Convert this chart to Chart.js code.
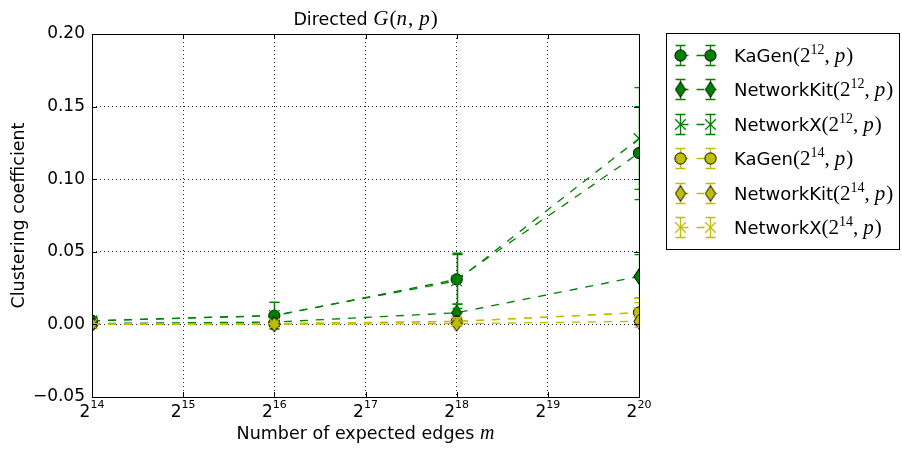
<!DOCTYPE html>
<html>
<head>
<meta charset="utf-8">
<script src="https://cdn.jsdelivr.net/npm/chart.js@4.4.1/dist/chart.umd.min.js"></script>
<style>
  html, body { margin: 0; padding: 0; background: #fff; }
  #wrap { width: 902px; height: 449px; position: relative; }
  canvas { display: block; }
</style>
</head>
<body>
<div id="wrap"><canvas id="chart" width="902" height="449"></canvas></div>
<script>
// Expected edge counts as powers of two (m = 2^e)
const exponents = [14, 16, 18, 20];
const xTickExponents = [14, 15, 16, 17, 18, 19, 20];

// Mean clustering coefficient and error-bar half-widths, n = 2^12
const kagen12 = [0.0025, 0.0060, 0.0310, 0.1180];
const kagen12Err = [0.0020, 0.0092, 0.0170, 0.0320];
const networkit12 = [0.0006, 0.0016, 0.0080, 0.0330];
const networkit12Err = [0.0008, 0.0025, 0.0060, 0.0150];
const networkx12 = [0.0025, 0.0062, 0.0300, 0.1280];
const networkx12Err = [0.0020, 0.0090, 0.0190, 0.0350];

// Same for n = 2^14
const kagen14 = [0.0002, 0.0005, 0.0020, 0.0082];
const kagen14Err = [0.0004, 0.0010, 0.0025, 0.0068];
const networkit14 = [0.0001, 0.0001, 0.0005, 0.0021];
const networkit14Err = [0.0002, 0.0003, 0.0010, 0.0025];
const networkx14 = [0.0002, 0.0005, 0.0021, 0.0080];
const networkx14Err = [0.0004, 0.0010, 0.0025, 0.0100];

const seriesNames = ['KaGen', 'NetworkKit', 'NetworkX', 'KaGen', 'NetworkKit', 'NetworkX'];
const seriesSizes = ['12', '12', '12', '14', '14', '14'];

const GREEN = '#008000';
const YELLOW = '#bfbf00';
const SANS = '"DejaVu Sans", sans-serif';
const SERIF = '"Liberation Serif", "DejaVu Serif", serif';

// thin diamond marker ('d') with a black edge
function diamondMarker(fill) {
  const c = document.createElement('canvas');
  c.width = 12; c.height = 17;
  const g = c.getContext('2d');
  g.beginPath();
  g.moveTo(6, 0.8); g.lineTo(11.2, 8.5); g.lineTo(6, 16.2); g.lineTo(0.8, 8.5); g.closePath();
  g.fillStyle = fill; g.fill();
  g.lineWidth = 1; g.strokeStyle = '#000'; g.stroke();
  return c;
}

const series = [
  { values: kagen12, errors: kagen12Err, color: GREEN, marker: 'circle' },
  { values: networkit12, errors: networkit12Err, color: GREEN, marker: 'diamond' },
  { values: networkx12, errors: networkx12Err, color: GREEN, marker: 'x' },
  { values: kagen14, errors: kagen14Err, color: YELLOW, marker: 'circle' },
  { values: networkit14, errors: networkit14Err, color: YELLOW, marker: 'diamond' },
  { values: networkx14, errors: networkx14Err, color: YELLOW, marker: 'x' }
];

function pointOpts(s) {
  if (s.marker === 'circle') {
    return { pointStyle: 'circle', pointRadius: 5.6, pointBorderWidth: 1,
             pointBorderColor: '#000', pointBackgroundColor: s.color };
  }
  if (s.marker === 'diamond') {
    return { pointStyle: diamondMarker(s.color), pointRadius: 6 };
  }
  return { pointStyle: 'crossRot', pointRadius: 7.5, pointBorderWidth: 1.3,
           pointBorderColor: s.color, pointBackgroundColor: s.color };
}

const datasets = series.map((s, i) => Object.assign({
  label: seriesNames[i] + '(2^' + seriesSizes[i] + ', p)',
  data: exponents.map((e, j) => ({ x: e, y: s.values[j] })),
  errors: s.errors,
  borderColor: s.color,
  backgroundColor: s.color,
  borderWidth: 1.3,
  borderDash: [8, 8],
  fill: false,
  tension: 0,
  clip: 0,
  order: series.length - i
}, pointOpts(s)));

// text made of pieces in different fonts (math-style labels)
function richWidth(ctx, parts) {
  let w = 0;
  for (const p of parts) { ctx.font = p.font; w += ctx.measureText(p.t).width + (p.gap || 0); }
  return w;
}
function drawRich(ctx, parts, x, y, align) {
  const w = richWidth(ctx, parts);
  let cx = align === 'center' ? x - w / 2 : (align === 'right' ? x - w : x);
  ctx.textAlign = 'left';
  ctx.textBaseline = 'alphabetic';
  for (const p of parts) {
    ctx.font = p.font;
    ctx.fillText(p.t, cx, y + (p.dy || 0));
    cx += ctx.measureText(p.t).width + (p.gap || 0);
  }
}

function drawErrorBar(ctx, x, yTop, yBot, color) {
  ctx.strokeStyle = color;
  ctx.lineWidth = 1.3;
  ctx.setLineDash([]);
  ctx.beginPath();
  ctx.moveTo(x, yTop); ctx.lineTo(x, yBot);
  ctx.moveTo(x - 5, yTop); ctx.lineTo(x + 5, yTop);
  ctx.moveTo(x - 5, yBot); ctx.lineTo(x + 5, yBot);
  ctx.stroke();
}

// each series (error bars, line, markers) is clipped to the plot area;
// error bars go underneath the line and markers
const errorBars = {
  id: 'errorBars',
  beforeDatasetDraw(chart, args) {
    const ds = chart.data.datasets[args.index];
    const { ctx, chartArea: a } = chart;
    const xs = chart.scales.x, ys = chart.scales.y;
    ctx.save();
    ctx.beginPath();
    ctx.rect(a.left, a.top, a.right - a.left, a.bottom - a.top);
    ctx.clip();
    ds.data.forEach((p, j) => {
      const x = Math.round(xs.getPixelForValue(p.x)) + 0.5;
      const yt = ys.getPixelForValue(p.y + ds.errors[j]);
      const yb = ys.getPixelForValue(p.y - ds.errors[j]);
      drawErrorBar(ctx, x, yt, yb, ds.borderColor);
    });
  },
  afterDatasetDraw(chart) {
    chart.ctx.restore();
  }
};

// frame, inward ticks, x tick labels, axis titles, title and legend
const decorations = {
  id: 'decorations',
  afterDatasetsDraw(chart) {
    const { ctx, chartArea: a } = chart;
    const xs = chart.scales.x, ys = chart.scales.y;
    ctx.save();
    ctx.setLineDash([]);
    ctx.strokeStyle = '#000';
    ctx.lineWidth = 1;
    // inward ticks on all four sides
    ctx.beginPath();
    xTickExponents.forEach(e => {
      const x = Math.round(xs.getPixelForValue(e)) + 0.5;
      ctx.moveTo(x, a.bottom); ctx.lineTo(x, a.bottom - 5);
      ctx.moveTo(x, a.top); ctx.lineTo(x, a.top + 5);
    });
    ys.ticks.forEach(t => {
      const y = Math.round(ys.getPixelForValue(t.value)) + 0.5;
      ctx.moveTo(a.left, y); ctx.lineTo(a.left + 5, y);
      ctx.moveTo(a.right, y); ctx.lineTo(a.right - 5, y);
    });
    ctx.stroke();
    ctx.strokeRect(Math.round(a.left) + 0.5, Math.round(a.top) + 0.5,
                   Math.round(a.right - a.left), Math.round(a.bottom - a.top));
    ctx.restore();
  },
  afterDraw(chart) {
    const { ctx, chartArea: a } = chart;
    const xs = chart.scales.x;
    ctx.save();
    ctx.fillStyle = '#000';

    // x tick labels 2^e
    xTickExponents.forEach(e => {
      const x = xs.getPixelForValue(e);
      drawRich(ctx, [
        { t: '2', font: `17px ${SANS}` },
        { t: String(e), font: `11px ${SANS}`, dy: -9 }
      ], x, 417, 'center');
    });

    const cx = (a.left + a.right) / 2;

    // x axis title
    drawRich(ctx, [
      { t: 'Number of expected edges ', font: `17.5px ${SANS}` },
      { t: 'm', font: `italic 20px ${SERIF}` }
    ], cx, 439, 'center');

    // y axis title
    ctx.save();
    ctx.translate(24, (a.top + a.bottom) / 2);
    ctx.rotate(-Math.PI / 2);
    ctx.font = `17.5px ${SANS}`;
    ctx.textAlign = 'center';
    ctx.textBaseline = 'alphabetic';
    ctx.fillText('Clustering coefficient', 0, 0);
    ctx.restore();

    // title
    drawRich(ctx, [
      { t: 'Directed ', font: `17.5px ${SANS}` },
      { t: 'G', font: `italic 21px ${SERIF}`, gap: 1 },
      { t: '(', font: `21px ${SERIF}` },
      { t: 'n', font: `italic 21px ${SERIF}`, gap: 1 },
      { t: ',', font: `21px ${SERIF}`, gap: 6 },
      { t: 'p', font: `italic 21px ${SERIF}`, gap: 1 },
      { t: ')', font: `21px ${SERIF}` }
    ], cx, 25, 'center');

    // legend
    const lx = 666.5, ly = 33.5, lw = 233, lh = 216;
    ctx.fillStyle = '#fff';
    ctx.fillRect(lx, ly, lw, lh);
    ctx.strokeStyle = '#000';
    ctx.lineWidth = 1;
    ctx.strokeRect(lx, ly, lw, lh);
    chart.data.datasets.forEach((ds, i) => {
      const y = Math.round(55 + i * 34.4) + 0.5;
      const m1 = 680.5, m2 = 710.5;
      ctx.strokeStyle = ds.borderColor;
      ctx.lineWidth = 1.3;
      ctx.setLineDash([8, 8]);
      ctx.beginPath();
      ctx.moveTo(m1, y); ctx.lineTo(m2, y);
      ctx.stroke();
      ctx.setLineDash([]);
      [m1, m2].forEach(mx => {
        drawErrorBar(ctx, mx, y - 10, y + 10, ds.borderColor);
        ctx.fillStyle = ds.pointBackgroundColor || ds.borderColor;
        ctx.strokeStyle = ds.pointBorderColor || ds.borderColor;
        ctx.lineWidth = ds.pointBorderWidth || 1;
        Chart.helpers.drawPoint(ctx, {
          pointStyle: ds.pointStyle, radius: ds.pointRadius,
          borderWidth: ds.pointBorderWidth || 0, rotation: 0
        }, mx, y);
      });
      ctx.fillStyle = '#000';
      drawRich(ctx, [
        { t: seriesNames[i], font: `18px ${SANS}` },
        { t: '(2', font: `21px ${SERIF}` },
        { t: seriesSizes[i], font: `14px ${SERIF}`, dy: -8 },
        { t: ',', font: `21px ${SERIF}`, gap: 5 },
        { t: 'p', font: `italic 21px ${SERIF}`, gap: 1 },
        { t: ')', font: `21px ${SERIF}` }
      ], 734, y + 6.5, 'left');
    });
    ctx.restore();
  }
};

new Chart(document.getElementById('chart'), {
  type: 'line',
  data: { datasets },
  options: {
    responsive: false,
    animation: false,
    events: [],
    layout: { padding: { left: 0, right: 263, top: 34, bottom: 0 } },
    plugins: { legend: { display: false }, tooltip: { enabled: false }, title: { display: false } },
    scales: {
      x: {
        type: 'linear',
        min: 14, max: 20,
        ticks: { stepSize: 1, display: false },
        grid: { color: 'rgba(0,0,0,0.85)', lineWidth: 1, drawTicks: false },
        border: { display: false, dash: [1, 3] },
        afterFit(scale) { scale.height = 52; }
      },
      y: {
        min: -0.05, max: 0.2,
        ticks: {
          stepSize: 0.05,
          padding: 7,
          color: '#000',
          font: { family: '"DejaVu Sans"', size: 17 },
          callback: v => (v < -1e-9 ? '\u2212' : '') + Math.abs(v).toFixed(2)
        },
        grid: { color: 'rgba(0,0,0,0.85)', lineWidth: 1, drawTicks: false },
        border: { display: false, dash: [1, 3] },
        afterFit(scale) { scale.width = 92; }
      }
    }
  },
  plugins: [errorBars, decorations]
});
</script>
</body>
</html>
